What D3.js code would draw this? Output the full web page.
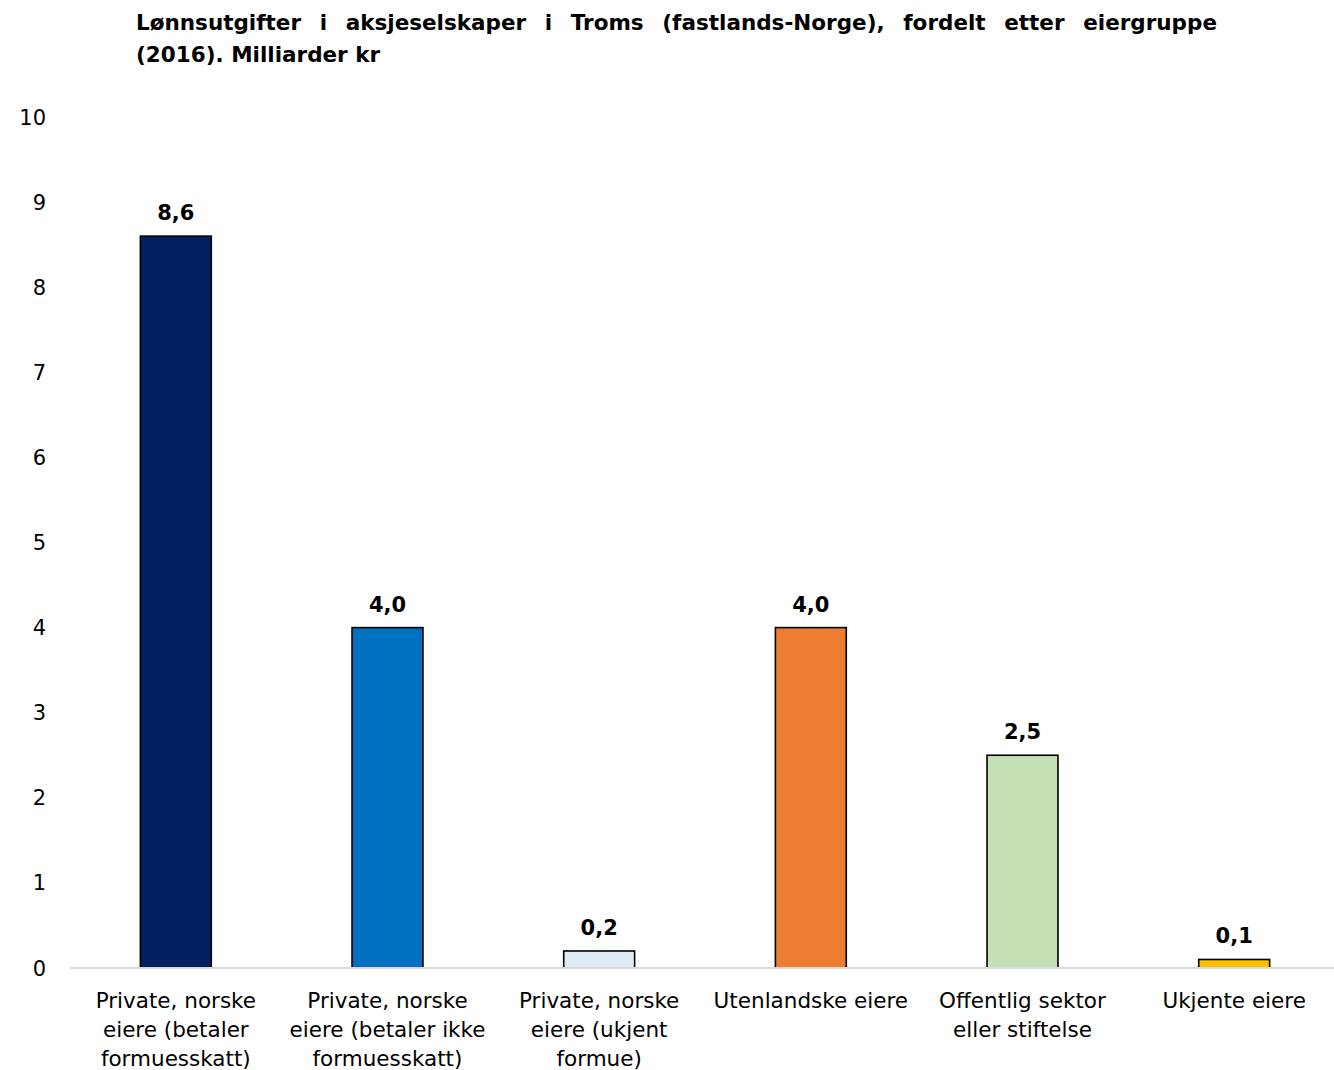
<!DOCTYPE html>
<html><head><meta charset="utf-8">
<script src="https://cdn.jsdelivr.net/npm/d3@7"></script>
<style>body{margin:0;background:#fff}svg{display:block}</style>
</head><body>
<script>
const categories = [
  ["Private, norske","eiere (betaler","formuesskatt)"],
  ["Private, norske","eiere (betaler ikke","formuesskatt)"],
  ["Private, norske","eiere (ukjent","formue)"],
  ["Utenlandske eiere"],
  ["Offentlig sektor","eller stiftelse"],
  ["Ukjente eiere"]
];
const values = [8.6, 4.0, 0.2, 4.0, 2.5, 0.1];
const colors = ["#002060","#0070C0","#DEEBF7","#ED7D31","#C5E0B4","#FFC000"];
const yTicks = [0,1,2,3,4,5,6,7,8,9,10];
const titleLines = ["Lønnsutgifter i aksjeselskaper i Troms (fastlands-Norge), fordelt etter eiergruppe","(2016). Milliarder kr"];

const W = 1334, H = 1070;
const font = "'DejaVu Sans', Lato, sans-serif";
const svg = d3.select("body").append("svg").attr("width", W).attr("height", H);

const x = d3.scaleBand().domain(d3.range(categories.length)).range([70, 1340]).padding(0);
const y = d3.scaleLinear().domain([0, 10]).range([968, 117]);
const bw = x.bandwidth() * 0.335;

// y tick labels
svg.append("g").selectAll("text").data(yTicks).join("text")
  .attr("x", 46).attr("y", d => y(d)).attr("dy", "0.36em")
  .attr("text-anchor", "end").attr("font-family", font).attr("font-size", 21)
  .attr("fill", "#000").text(d => d);

// bars
svg.append("g").selectAll("rect").data(values).join("rect")
  .attr("x", (d,i) => x(i) + x.bandwidth()/2 - bw/2)
  .attr("y", d => y(d))
  .attr("width", bw)
  .attr("height", d => y(0) - y(d))
  .attr("fill", (d,i) => colors[i])
  .attr("stroke", "#000").attr("stroke-width", 1.6);

// axis line
svg.append("line").attr("x1", 70).attr("x2", 1334).attr("y1", y(0)).attr("y2", y(0))
  .attr("stroke", "#D9D9D9").attr("stroke-width", 2);

// value labels
svg.append("g").selectAll("text").data(values).join("text")
  .attr("x", (d,i) => x(i) + x.bandwidth()/2)
  .attr("y", d => y(d) - 16)
  .attr("text-anchor", "middle").attr("font-family", font).attr("font-size", 21)
  .attr("font-weight", "bold").attr("fill", "#000")
  .text(d => d.toFixed(1).replace(".", ","));

// category labels
const cg = svg.append("g").selectAll("text").data(categories).join("text")
  .attr("text-anchor", "middle").attr("font-family", font).attr("font-size", 21.5).attr("fill", "#000");
cg.each(function(lines, i) {
  const t = d3.select(this);
  lines.forEach((l, j) => {
    t.append("tspan").attr("x", x(i) + x.bandwidth()/2).attr("y", 1008 + j * 29).text(l);
  });
});

// title (justified first line)
const tx0 = 136, tx1 = 1217;
const tg = svg.append("g").attr("font-family", font).attr("font-size", 21.5).attr("font-weight", "bold").attr("fill", "#000");
titleLines.forEach((line, li) => {
  const yy = 30 + li * 32;
  const words = line.split(" ");
  if (li === titleLines.length - 1) {
    tg.append("text").attr("x", tx0).attr("y", yy).text(line);
    return;
  }
  const nodes = words.map(w => tg.append("text").attr("y", yy).text(w));
  const widths = nodes.map(n => n.node().getComputedTextLength());
  const gap = (tx1 - tx0 - d3.sum(widths)) / (words.length - 1);
  let cx = tx0;
  nodes.forEach((n, k) => { n.attr("x", cx); cx += widths[k] + gap; });
});
</script>
</body></html>
